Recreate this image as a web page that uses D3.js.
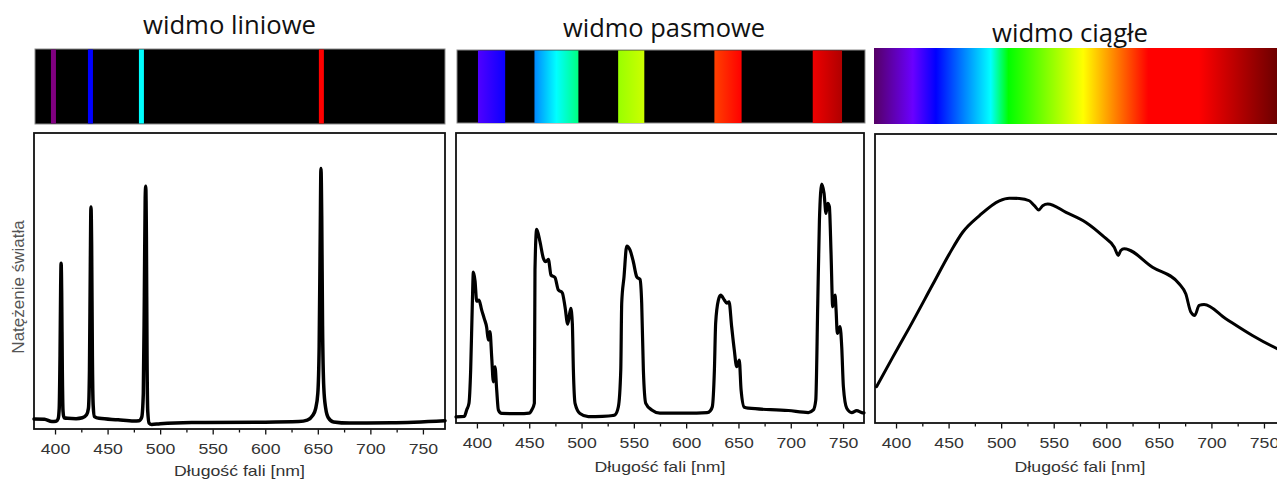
<!DOCTYPE html>
<html><head><meta charset="utf-8">
<script src="https://cdn.jsdelivr.net/npm/d3@7"></script>
<style>body{margin:0;background:#fff;overflow:hidden} svg{display:block}</style>
</head><body><svg id="c" width="1277" height="479"></svg>
<script>
// ---------------- DATA ----------------
const titles = ["widmo liniowe", "widmo pasmowe", "widmo ciągłe"];
const xTickValues = [400, 450, 500, 550, 600, 650, 700, 750];
const xMinorTickValues = [425, 475, 525, 575, 625, 675, 725];
const xAxisTitle = "Długość fali [nm]";
const yAxisTitle = "Natężenie światła";

// emission lines shown in the first colour strip (nm)
const emissionLines = [398.5, 433.7, 482.2, 653.4];
const emissionColors = ["#800080", "#0000ff", "#00ffff", "#ff0000"];

// bands shown in the second colour strip (nm)
const bandStart = [401, 455, 535, 627, 721];
const bandEnd = [427, 497, 560, 653, 749];
const bandColors = [
  ["#5000ff", "#0a00ff"],
  ["#0088ff", "#00ffff", "#00ff80"],
  ["#99ff00", "#ccff00"],
  ["#ff4000", "#ff0000"],
  ["#ee0000", "#b00000"]
];

// continuous spectrum colour stops (nm)
const contStopWl = [380, 416, 438, 490, 507, 578, 640, 688, 770];
const contStopColor = ["#560068", "#6a00ff", "#0000ff", "#00ffff", "#00ff00", "#ffff00", "#ff0000", "#ff0000", "#5e0000"];

// intensity curves [nm, intensity]
const lineSpectrum = [
  [380, 3.4], [390, 3.3], [397, 2.5], [401, 2.6], [403, 3.5], [404, 7], [404.8, 25], [405.4, 48], [405.8, 56],
  [406.3, 46], [406.9, 20], [407.6, 6], [408.5, 3.8], [412, 3.6], [420, 3.5], [426, 3.8], [430, 4.8],
  [431.8, 7], [432.8, 20], [433.6, 55], [434.2, 75], [434.8, 62], [435.5, 25], [436.3, 8], [437.5, 4.2],
  [442, 3.6], [460, 3.1], [475, 2.7], [480, 2.8], [482.5, 4], [484, 12], [485, 45], [485.8, 78], [486.3, 82],
  [486.9, 65], [487.5, 25], [488.2, 6], [489.5, 2.0], [492, 1.5], [500, 1.8], [530, 2.2], [600, 2.3],
  [632, 2.5], [640, 3.0], [645, 4.5], [648, 7], [650, 12], [651.3, 28], [652.3, 65], [653, 88], [653.7, 72],
  [654.5, 35], [655.7, 14], [657.5, 7], [660, 3.8], [665, 2.4], [680, 2.0], [720, 2.1], [771, 2.8]
];
const bandSpectrum = [
  [380, 2.1], [388, 2.3], [390.2, 4.5], [392.4, 6.8], [394, 18], [395.6, 41], [396.6, 52], [398.2, 49],
  [399.8, 42], [402, 42.4], [404.5, 39], [407, 36], [409.3, 33], [410.9, 28.6], [412.5, 31.5], [414.1, 22.9],
  [415.7, 14.2], [417.3, 19.4], [418.9, 11.4], [420.5, 4.5], [423.7, 3.3], [440, 3.2], [450, 3.4],
  [452.4, 4.5], [454.9, 6.8], [455.5, 52.8], [457.1, 66.8], [460.3, 62.5], [463.5, 56.8], [465.8, 55.6],
  [468.3, 56.4], [470.8, 51], [474.6, 50.2], [477.8, 45.9], [481.6, 44.9], [484.2, 40.1], [486.8, 34.1],
  [489.7, 39.5], [491.2, 34.4], [492.2, 18.3], [493.8, 6.8], [498.5, 3.3], [506.5, 2.2], [520, 2.3],
  [530, 2.6], [532, 2.8], [535.2, 5.6], [537.5, 18.3], [538.4, 41.3], [540.6, 50.4], [543.2, 61],
  [546.3, 59.7], [549.5, 55.6], [552.8, 50.4], [555.9, 49.5], [557.5, 41.3], [559.1, 18.3], [561.4, 6.8],
  [567.1, 4.5], [575, 3.4], [600, 3.4], [620, 3.6], [623, 4.2], [625, 5.6], [627, 18.3], [628.2, 34.4],
  [630.8, 42.4], [633, 44.1], [636.5, 42.4], [638.8, 41.3], [641, 41.8], [643.5, 33.2], [646, 25.2],
  [648.3, 19.4], [650.8, 21.7], [652.5, 11.4], [655.6, 5.4], [659.5, 5.1], [697.7, 4.3], [716.8, 3.6],
  [721.6, 4.5], [723.9, 7.9], [725.8, 41.3], [727.4, 70], [729.6, 82.4], [731.8, 79.2], [733.7, 72.3],
  [735.3, 75.7], [736.9, 74.6], [738.5, 58.5], [740.1, 40.1], [742.3, 44.1], [743.3, 39], [744.5, 30.9],
  [747.1, 33.2], [748.7, 26.3], [750.3, 12.5], [753.5, 5.1], [758.3, 3.6], [763, 4.3], [767.9, 3.6], [770, 3.5]
];
const continuousSpectrum = [
  [381.5, 12.6], [396.8, 22.7], [412.7, 33.0], [434.9, 47.9], [450.7, 58.5], [463.4, 66], [479.2, 71.7],
  [498.3, 76.9], [507.8, 77.8], [517.3, 77.7], [526.8, 76.9], [531.6, 75.2], [535.7, 73.7], [539.5, 75.2],
  [544.3, 75.8], [561.7, 72.9], [580.7, 69.4], [596.5, 64.8], [607.6, 60.8], [611.4, 58], [613.8, 59.7],
  [617, 60.3], [644, 53.9], [669.3, 48.2], [675.6, 44.7], [680.4, 38.4], [684.2, 37.2], [688.3, 40.7],
  [693, 41], [713.7, 36.1], [739, 30.3], [762.1, 25.8], [770, 24.5]
];

// ---------------- LAYOUT ----------------
const panels = [
  {x0: 34, x1: 445, y0: 133, y1: 429, dom: [380, 771], barY: [49, 124],
   titleX: 229.5, titleY: 34, titleW: 173, curveW: 3.5, axisTitleY: 475.5},
  {x0: 456, x1: 864, y0: 133, y1: 423, dom: [380, 770], barY: [50, 123],
   titleX: 664, titleY: 37, titleW: 202, curveW: 3.2, axisTitleY: 471.5},
  {x0: 875, x1: 1285, y0: 134, y1: 423, dom: [380, 770], barY: [48, 124],
   titleX: 1070, titleY: 41.5, titleW: 156, curveW: 3, axisTitleY: 471.5}
];
const curves = [lineSpectrum, bandSpectrum, continuousSpectrum];

const svg = d3.select("#c");
const defs = svg.append("defs");
const STRETCH = 1.18;

function stretchText(sel, factor) {
  sel.each(function () {
    const w = this.getComputedTextLength();
    d3.select(this).attr("textLength", w * factor).attr("lengthAdjust", "spacingAndGlyphs");
  });
}

panels.forEach((p, i) => {
  const x = d3.scaleLinear().domain(p.dom).range([p.x0, p.x1]);
  const y = d3.scaleLinear().domain([0, 100]).range([p.y1, p.y0]);
  const g = svg.append("g");

  // title
  g.append("text")
    .attr("x", p.titleX).attr("y", p.titleY)
    .attr("text-anchor", "middle")
    .attr("font-family", "'Open Sans', sans-serif")
    .attr("font-size", 25.5).attr("fill", "#111")
    .attr("textLength", p.titleW).attr("lengthAdjust", "spacingAndGlyphs")
    .text(titles[i]);

  // colour strip
  const [by0, by1] = p.barY;
  if (i === 0) {
    g.append("rect").attr("x", p.x0 + 1).attr("y", by0).attr("width", p.x1 - p.x0 - 1).attr("height", by1 - by0)
      .attr("fill", "#000").attr("stroke", "#8a8a8a").attr("stroke-width", 1);
    g.selectAll("rect.el").data(emissionLines).join("rect").attr("class", "el")
      .attr("x", d => x(d) - 2.5).attr("y", by0 + 0.5).attr("width", 5).attr("height", by1 - by0 - 1)
      .attr("fill", (d, k) => emissionColors[k]);
  } else if (i === 1) {
    g.append("rect").attr("x", p.x0 + 1).attr("y", by0).attr("width", p.x1 - p.x0).attr("height", by1 - by0)
      .attr("fill", "#000").attr("stroke", "#8a8a8a").attr("stroke-width", 1);
    bandStart.forEach((s, k) => {
      const lg = defs.append("linearGradient").attr("id", "band" + k).attr("x1", 0).attr("x2", 1).attr("y1", 0).attr("y2", 0);
      const cols = bandColors[k];
      cols.forEach((c, j) => lg.append("stop").attr("offset", j / (cols.length - 1)).attr("stop-color", c));
    });
    g.selectAll("rect.band").data(bandStart).join("rect").attr("class", "band")
      .attr("x", d => x(d)).attr("y", by0 + 0.5)
      .attr("width", (d, k) => x(bandEnd[k]) - x(d)).attr("height", by1 - by0 - 0.5)
      .attr("fill", (d, k) => "url(#band" + k + ")");
  } else {
    const lg = defs.append("linearGradient").attr("id", "cont").attr("gradientUnits", "userSpaceOnUse")
      .attr("x1", x(380)).attr("x2", x(770)).attr("y1", 0).attr("y2", 0);
    contStopWl.forEach((w, k) => lg.append("stop").attr("offset", (w - 380) / 390).attr("stop-color", contStopColor[k]));
    g.append("rect").attr("x", p.x0 - 1).attr("y", by0).attr("width", p.x1 - p.x0 + 2).attr("height", by1 - by0)
      .attr("fill", "url(#cont)");
  }

  // frame
  g.append("rect").attr("x", p.x0).attr("y", p.y0).attr("width", p.x1 - p.x0).attr("height", p.y1 - p.y0)
    .attr("fill", "none").attr("stroke", "#111").attr("stroke-width", 1.8);

  // axes
  const ax = g.append("g").attr("transform", `translate(0,${p.y1 + 0.5})`)
    .call(d3.axisBottom(x).tickValues(xTickValues).tickSize(5).tickPadding(8.5).tickFormat(d3.format("d")));
  ax.select(".domain").remove();
  ax.selectAll("line").attr("stroke", "#111").attr("stroke-width", 1.3);
  ax.selectAll("text").attr("font-family", "'Liberation Sans', Arial, sans-serif").attr("font-size", 15).attr("fill", "#333");
  stretchText(ax.selectAll("text"), STRETCH);
  const axm = g.append("g").attr("transform", `translate(0,${p.y1 + 0.5})`)
    .call(d3.axisBottom(x).tickValues(xMinorTickValues).tickSize(3).tickFormat(""));
  axm.select(".domain").remove();
  axm.selectAll("line").attr("stroke", "#111").attr("stroke-width", 1.3);

  const at = g.append("text").attr("x", (p.x0 + p.x1) / 2).attr("y", p.axisTitleY)
    .attr("text-anchor", "middle").attr("font-family", "'Liberation Sans', Arial, sans-serif")
    .attr("font-size", 15).attr("fill", "#333").text(xAxisTitle);
  stretchText(at, STRETCH);

  // curve
  const line = d3.line().x(d => x(d[0])).y(d => y(d[1])).curve(d3.curveMonotoneX);
  g.append("path").datum(curves[i]).attr("d", line)
    .attr("fill", "none").attr("stroke", "#000").attr("stroke-width", p.curveW)
    .attr("stroke-linejoin", "round").attr("stroke-linecap", "round");
});

// y axis title
svg.append("text").attr("transform", "translate(24,287) rotate(-90)")
  .attr("text-anchor", "middle").attr("font-family", "'Liberation Sans', Arial, sans-serif")
  .attr("font-size", 17).attr("fill", "#555").text(yAxisTitle);
</script>
</body></html>
